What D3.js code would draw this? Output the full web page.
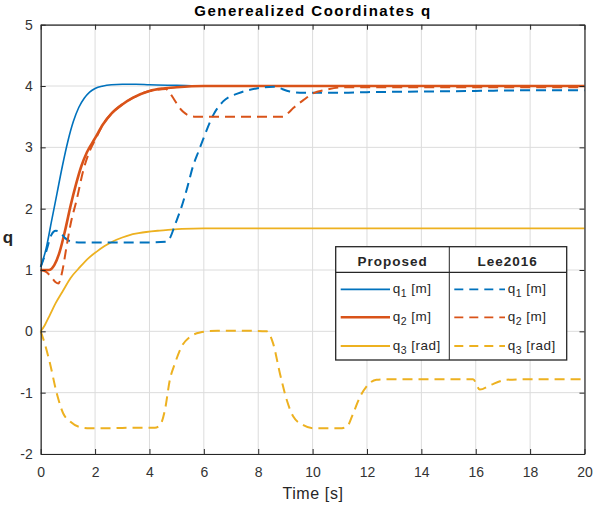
<!DOCTYPE html>
<meta charset="utf-8">
<title>Generealized Coordinates q</title>
<style>
  body { margin: 0; background: #fff; }
  text { font-family: "Liberation Sans", Arial, Helvetica, sans-serif; }
</style>
<body>
<script src="https://d3js.org/d3.v7.min.js"></script>
<script>
// time samples + values
const tQ1p = [0,0.2,0.4,0.6,0.8,1.0,1.2,1.4,1.6,1.8,2.0,2.3,2.6,3.0,3.5,4,5,6,8,20];
const q1Proposed = [1.05,1.35,1.8,2.25,2.7,3.1,3.42,3.65,3.8,3.9,3.96,4.0,4.02,4.03,4.03,4.02,4.01,4.0,4.0,4.0];

const tQ2p = [0,0.3,0.5,0.7,0.9,1.1,1.3,1.5,1.7,2.0,2.3,2.6,3.0,3.4,4,4.5,5,6,8,20];
const q2Proposed = [1.0,1.0,1.08,1.3,1.65,2.05,2.4,2.7,2.92,3.15,3.38,3.55,3.7,3.81,3.92,3.96,3.98,4.0,4.0,4.0];

const tQ3p = [0,0.15,0.34,0.55,0.83,1.1,1.45,1.75,2.06,2.35,2.67,3.0,3.27,3.6,3.88,4.3,4.6,5.2,6,8,10,20];
const q3Proposed = [0,0.1,0.27,0.46,0.67,0.87,1.05,1.19,1.30,1.39,1.47,1.53,1.57,1.60,1.62,1.64,1.65,1.67,1.68,1.68,1.68,1.68];

const tQ1l = [0,0.2,0.4,0.55,0.7,0.9,1.14,1.5,2,3,4,4.6,4.75,4.95,5.18,5.4,5.6,5.8,5.98,6.35,6.71,7.26,7.94,8.55,9.16,9.66,10.2,11,12,14,16,18,20];
const q1Lee = [1.05,1.3,1.58,1.64,1.62,1.52,1.46,1.45,1.45,1.45,1.45,1.46,1.52,1.75,2.03,2.36,2.69,2.93,3.14,3.53,3.75,3.88,3.96,3.99,3.91,3.89,3.89,3.89,3.9,3.91,3.92,3.93,3.93];

const tQ2l = [0,0.2,0.4,0.55,0.65,0.78,0.95,1.1,1.32,1.57,1.82,2.0,2.3,2.6,3.0,3.4,4.0,4.6,4.88,5.05,5.24,5.45,5.7,6.5,8.0,8.9,9.1,9.29,9.66,10.02,10.5,11.1,12,14,16,18,20];
const q2Lee = [1.0,0.97,0.88,0.8,0.78,0.95,1.38,1.75,2.14,2.63,2.96,3.12,3.38,3.55,3.7,3.81,3.92,3.95,3.8,3.68,3.58,3.52,3.5,3.5,3.5,3.5,3.56,3.64,3.77,3.88,3.94,3.98,3.98,3.98,3.98,3.98,3.98];

const tQ3l = [0,0.15,0.34,0.59,0.83,1.08,1.44,1.8,2.5,3.5,4.2,4.39,4.57,4.75,4.94,5.18,5.49,5.86,6.5,7.5,8.31,8.55,8.8,9.05,9.29,9.66,10.0,10.5,11.0,11.25,11.49,11.74,11.98,12.35,12.72,14,15.9,16.15,16.52,17.13,18,20];
const q3Lee = [0,-0.2,-0.52,-1.01,-1.34,-1.47,-1.56,-1.58,-1.58,-1.57,-1.57,-1.53,-1.28,-0.79,-0.52,-0.25,-0.09,-0.02,0.01,0.01,0.0,-0.2,-0.69,-1.12,-1.39,-1.53,-1.58,-1.58,-1.58,-1.56,-1.34,-1.07,-0.90,-0.79,-0.78,-0.78,-0.78,-0.95,-0.88,-0.79,-0.78,-0.78];

const xTicks = [0,2,4,6,8,10,12,14,16,18,20];
const yTicks = [-2,-1,0,1,2,3,4,5];
const legendLabels = [["q","1","[m]"],["q","2","[m]"],["q","3","[rad]"]];

const W = 594, H = 506;
const x = d3.scaleLinear().domain([0, 20]).range([40.7, 584.5]);
const y = d3.scaleLinear().domain([-2, 5]).range([454, 24.7]);

const svg = d3.select("body").append("svg").attr("width", W).attr("height", H);

const ink = "#262626";
const blue = "#0072BD", red = "#D95319", orange = "#EDB120";

// grid
svg.append("g").selectAll("line").data(xTicks).join("line")
  .attr("x1", d => x(d)).attr("x2", d => x(d)).attr("y1", y(-2)).attr("y2", y(5))
  .attr("stroke", "#dcdcdc").attr("stroke-width", 1);
svg.append("g").selectAll("line").data(yTicks).join("line")
  .attr("y1", d => y(d)).attr("y2", d => y(d)).attr("x1", x(0)).attr("x2", x(20))
  .attr("stroke", "#dcdcdc").attr("stroke-width", 1);

// series
const series = [
  {t: tQ1p, v: q1Proposed, c: blue, w: 1.6, dash: null},
  {t: tQ2p, v: q2Proposed, c: red, w: 2.6, dash: null},
  {t: tQ3p, v: q3Proposed, c: orange, w: 1.8, dash: null},
  {t: tQ1l, v: q1Lee, c: blue, w: 2, dash: "10,6"},
  {t: tQ2l, v: q2Lee, c: red, w: 2, dash: "10,6"},
  {t: tQ3l, v: q3Lee, c: orange, w: 2, dash: "10,6"}
];
const line = d3.line().x(d => x(d[0])).y(d => y(d[1])).curve(d3.curveMonotoneX);
svg.append("g").selectAll("path").data(series).join("path")
  .attr("d", s => line(s.t.map((t, i) => [t, s.v[i]])))
  .attr("fill", "none")
  .attr("stroke", s => s.c)
  .attr("stroke-width", s => s.w)
  .attr("stroke-dasharray", s => s.dash);

// axes (box on, inward ticks)
const fmt = d => String(d);
const xAx = svg.append("g").attr("transform", `translate(0,${y(-2)})`)
  .call(d3.axisBottom(x).tickValues(xTicks).tickSizeInner(-5).tickSizeOuter(0).tickPadding(13).tickFormat(fmt));
const xAxTop = svg.append("g").attr("transform", `translate(0,${y(5)})`)
  .call(d3.axisTop(x).tickValues(xTicks).tickSizeInner(-5).tickSizeOuter(0).tickFormat(""));
const yAx = svg.append("g").attr("transform", `translate(${x(0)},0)`)
  .call(d3.axisLeft(y).tickValues(yTicks).tickSizeInner(-5).tickSizeOuter(0).tickPadding(8).tickFormat(fmt));
const yAxR = svg.append("g").attr("transform", `translate(${x(20)},0)`)
  .call(d3.axisRight(y).tickValues(yTicks).tickSizeInner(-5).tickSizeOuter(0).tickFormat(""));
[xAx, xAxTop, yAx, yAxR].forEach(g => {
  g.select(".domain").attr("stroke", ink).attr("stroke-width", 1.2);
  g.selectAll(".tick line").attr("stroke", ink);
  g.selectAll(".tick text").attr("fill", "#333").style("font-size", "14px")
    .style("font-family", "'Liberation Sans', Arial, sans-serif");
});

// title and labels
svg.append("text").attr("x", 313).attr("y", 16).attr("text-anchor", "middle")
  .attr("font-weight", "bold").attr("font-size", 15).attr("letter-spacing", 1.5).attr("fill", "#000")
  .text("Generealized Coordinates q");
svg.append("text").attr("x", 313).attr("y", 499).attr("text-anchor", "middle")
  .attr("font-size", 16).attr("letter-spacing", 0.6).attr("fill", ink).text("Time [s]");
svg.append("text").attr("x", 8).attr("y", 243).attr("text-anchor", "middle")
  .attr("font-weight", "bold").attr("font-size", 17).attr("fill", ink).text("q");

// legend table
const lg = svg.append("g");
const L = 335.7, R = 566.7, T = 246.7, B = 360, MID = 449.3, HD = 272.3;
lg.append("rect").attr("x", L).attr("y", T).attr("width", R - L).attr("height", B - T)
  .attr("fill", "#fff").attr("stroke", ink).attr("stroke-width", 1.3);
lg.append("line").attr("x1", MID).attr("x2", MID).attr("y1", T).attr("y2", B).attr("stroke", ink);
lg.append("line").attr("x1", L).attr("x2", R).attr("y1", HD).attr("y2", HD).attr("stroke", ink).attr("stroke-width", 1.3);
lg.append("text").attr("x", 392.7).attr("y", 265.5).attr("text-anchor", "middle")
  .attr("font-weight", "bold").attr("font-size", 13.5).attr("letter-spacing", 1).attr("fill", ink).text("Proposed");
lg.append("text").attr("x", 507.7).attr("y", 265.5).attr("text-anchor", "middle")
  .attr("font-weight", "bold").attr("font-size", 13.5).attr("letter-spacing", 1).attr("fill", ink).text("Lee2016");

const rowY = [289.3, 317.3, 346];
const cols = [
  {x0: 340.7, x1: 390, tx: 392.7, dash: null, series: series.slice(0, 3)},
  {x0: 454.3, x1: 505, tx: 507.7, dash: "9,6", series: series.slice(3)}
];
cols.forEach(col => {
  col.series.forEach((s, i) => {
    lg.append("line").attr("x1", col.x0).attr("x2", col.x1).attr("y1", rowY[i]).attr("y2", rowY[i])
      .attr("stroke", s.c).attr("stroke-width", i === 1 && !col.dash ? 2.4 : 1.8)
      .attr("stroke-dasharray", col.dash);
    const t = lg.append("text").attr("x", col.tx).attr("y", rowY[i] + 4)
      .attr("font-size", 13.5).attr("letter-spacing", 0.5).attr("fill", ink);
    t.append("tspan").text(legendLabels[i][0]);
    t.append("tspan").attr("dy", 4).attr("font-size", 10.5).text(legendLabels[i][1]);
    t.append("tspan").attr("dy", -4).text(" " + legendLabels[i][2]);
  });
});
</script>
</body>
